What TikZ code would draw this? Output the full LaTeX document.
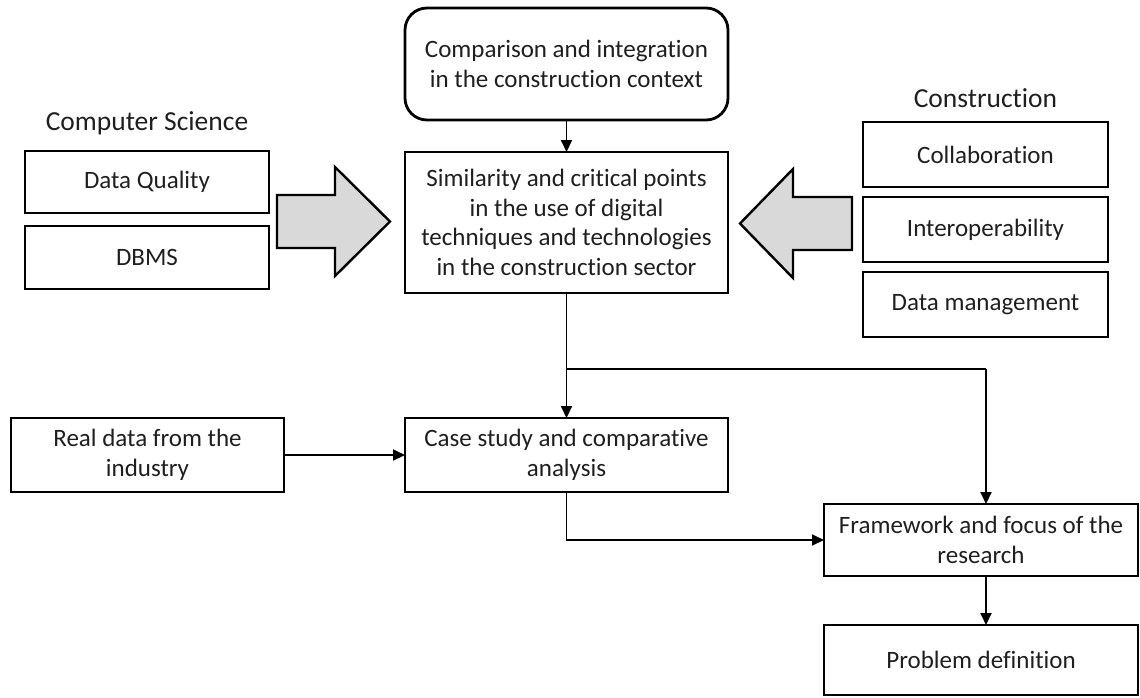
\documentclass[tikz,border=0pt]{standalone}
\usepackage{fontspec}
\setmainfont{Carlito}[Ligatures=NoCommon]
\usetikzlibrary{arrows.meta,calc}
\begin{document}
\begin{tikzpicture}[x=1pt,y=-1pt,
  every node/.style={font=\fontsize{25}{29.5}\selectfont, text=black!88},
  box/.style={draw=black, line width=2.8pt, fill=white, inner sep=0pt, outer sep=0pt, align=center},
  roundbox/.style={box, rounded corners=22pt},
  heading/.style={inner sep=0pt, font=\fontsize{27.5}{32}\selectfont},
  bigarrow/.style={draw=black, line width=2.4pt, fill=black!15, line join=miter},
  conn/.style={draw=black, line width=1.9pt},
  arr/.style={conn, -{Triangle[length=12pt,width=11pt]}}
]
\useasboundingbox (0,0) rectangle (1140,697);

% central column
\node[roundbox, minimum width=323pt, minimum height=112pt] (ctx) at (566.5,64)
  {Comparison and integration\\in the construction context};
\node[box, minimum width=323pt, minimum height=141pt] (sim) at (566.5,222.5)
  {Similarity and critical points\\in the use of digital\\techniques and technologies\\in the construction sector};
\node[box, minimum width=323pt, minimum height=74pt] (case) at (566.5,455)
  {Case study and comparative\\analysis};

% computer science side
\node[heading] (cs) at (147,123) {Computer Science};
\node[box, minimum width=244pt, minimum height=62pt] (dq) at (147,182) {Data Quality};
\node[box, minimum width=244pt, minimum height=63pt] (dbms) at (147,257.5) {DBMS};
\node[box, minimum width=273pt, minimum height=74pt] (real) at (147.5,455)
  {Real data from the\\industry};

% construction side
\node[heading] (con) at (985.5,98) {Construction};
\node[box, minimum width=245pt, minimum height=65pt] (collab) at (985.5,154.5) {Collaboration};
\node[box, minimum width=245pt, minimum height=65pt] (interop) at (985.5,229.5) {Interoperability};
\node[box, minimum width=245pt, minimum height=65pt] (dm) at (985.5,304.5) {Data management};

% outcome column
\node[box, minimum width=314pt, minimum height=72pt] (frame) at (981,540)
  {Framework and focus of the\\research};
\node[box, minimum width=314pt, minimum height=70pt] (prob) at (981,660)
  {Problem definition};

% block arrows feeding the central box
\draw[bigarrow] (277,195) -- (335,195) -- (335,167) -- (390,221.5) -- (335,276)
  -- (335,248) -- (277,248) -- cycle;
\draw[bigarrow] (852,197) -- (793,197) -- (793,169) -- (740,223.5) -- (793,278)
  -- (793,250) -- (852,250) -- cycle;

% connectors
\coordinate (j) at (566.5,369);
\coordinate (k) at (986,369);
\draw[arr] (ctx) -- (sim);
\draw[arr] (sim) -- (case);
\draw[conn] (j) -- (k);
\draw[arr] (k) -- (k |- frame.north);
\draw[arr] (real) -- (case);
\draw[arr] (case.south) |- (frame.west);
\draw[arr] (k |- frame.south) -- (k |- prob.north);
\end{tikzpicture}
\end{document}
